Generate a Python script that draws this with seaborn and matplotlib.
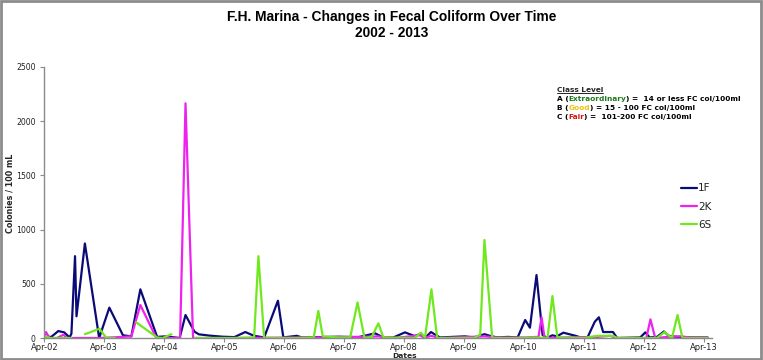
import numpy as np
import pandas as pd
import matplotlib
matplotlib.use("Agg")
import matplotlib.pyplot as plt
import matplotlib.dates as mdates
import matplotlib.patches as patches
import seaborn as sns

# ---------------- data ----------------
stations = ["1F", "2K", "6S"]
colors = ["#0b0b78", "#ee22ee", "#6fe81e"]

dates_1f = ["2002-04-02", "2002-05-13", "2002-06-25", "2002-07-31", "2002-09-02", "2002-09-13",
            "2002-10-05", "2002-10-14", "2002-12-04", "2003-03-01", "2003-05-02", "2003-07-24",
            "2003-09-13", "2003-11-07", "2004-02-17", "2004-04-09", "2004-07-03", "2004-08-08",
            "2004-10-02", "2004-10-28", "2005-01-01", "2005-03-20", "2005-06-01", "2005-08-07",
            "2005-09-30", "2005-11-30", "2006-02-22", "2006-03-27", "2006-06-17", "2006-07-18",
            "2006-10-29", "2007-02-27", "2007-06-28", "2007-10-07", "2007-11-26", "2008-01-26",
            "2008-04-06", "2008-06-02", "2008-07-06", "2008-08-06", "2008-09-11", "2008-11-04",
            "2009-04-05", "2009-05-31", "2009-08-03", "2009-09-17", "2009-10-23", "2009-12-23",
            "2010-02-21", "2010-04-08", "2010-05-07", "2010-06-16", "2010-07-23", "2010-08-18",
            "2010-09-21", "2010-10-17", "2010-11-27", "2011-02-09", "2011-03-22", "2011-04-21",
            "2011-06-06", "2011-07-01", "2011-07-27", "2011-09-25", "2011-10-20", "2012-03-09",
            "2012-04-09", "2012-05-05", "2012-06-19", "2012-07-31", "2012-08-30", "2012-10-18",
            "2013-01-17", "2013-04-23"]
values_1f = [10, 10, 64, 52, 5, 40,
             755, 200, 872, 0, 280, 25,
             15, 449, 10, 15, 0, 212,
             58, 34, 22, 12, 8, 55,
             20, 5, 344, 5, 20, 5,
             8, 12, 8, 43, 5, 5,
             52, 18, 35, 0, 55, 5,
             15, 5, 35, 15, 5, 10,
             5, 166, 95, 581, 28, 0,
             25, 15, 49, 20, 0, 0,
             150, 191, 55, 55, 0, 5,
             52, 5, 10, 60, 20, 10,
             5, 5]

dates_2k = ["2002-04-02", "2002-04-11", "2002-05-03", "2002-06-17", "2002-07-27", "2002-08-16",
            "2002-09-05", "2002-12-04", "2003-03-01", "2003-07-24", "2003-09-13", "2003-11-07",
            "2004-02-12", "2004-07-06", "2004-08-08", "2004-09-23", "2005-06-01", "2006-06-30",
            "2006-10-29", "2007-06-28", "2007-10-27", "2008-01-26", "2008-04-06", "2008-06-02",
            "2008-07-06", "2008-08-06", "2008-09-11", "2008-11-04", "2009-08-03", "2009-10-23",
            "2010-04-08", "2010-06-16", "2010-06-27", "2010-07-17", "2010-08-04", "2010-11-27",
            "2011-06-21", "2011-09-07", "2011-10-20", "2012-03-09", "2012-04-15", "2012-05-10",
            "2012-06-08", "2012-09-30", "2012-11-17", "2012-12-30", "2013-04-23"]
values_2k = [0, 55, 0, 0, 30, 0,
             0, 0, 0, 10, 15, 304,
             0, 0, 2165, 0, 0, 5,
             5, 10, 15, 0, 10, 20,
             25, 0, 20, 0, 15, 5,
             5, 10, 0, 190, 0, 5,
             10, 20, 0, 0, 0, 172,
             0, 15, 15, 5, 5]

# NaN marks a break in the 6S record
dates_6s = ["2002-04-02", "2002-05-07", "2002-06-25", "2002-07-31", "2002-09-13", "2002-10-20",
            "2002-12-04", "2003-03-03", "2003-04-14", "2003-06-05", "2003-07-15",
            "2003-10-12", "2004-02-17", "2004-03-22", "2004-05-14", "2004-06-20",
            "2004-10-02", "2005-01-01", "2005-06-01", "2005-09-30", "2005-10-26", "2005-11-30",
            "2006-06-17", "2006-09-28", "2006-10-26", "2006-11-22", "2007-02-27", "2007-05-08",
            "2007-06-22", "2007-08-03", "2007-09-16", "2007-10-27", "2007-11-26", "2008-06-02",
            "2008-07-12", "2008-08-06", "2008-09-14", "2008-10-19", "2009-05-31", "2009-07-08",
            "2009-08-03", "2009-09-19", "2010-02-21", "2010-06-04", "2010-08-22", "2010-09-21",
            "2010-10-21", "2011-04-03", "2011-06-21", "2011-09-25", "2011-10-20", "2012-06-19",
            "2012-08-04", "2012-09-18", "2012-10-22", "2012-11-21", "2013-04-23"]
values_6s = [15, 0, 0, 0, 0, np.nan,
             35, 85, 0, 0, np.nan,
             145, 5, 0, 35, np.nan,
             0, 0, 0, 5, 755, 0,
             0, 5, 250, 15, 5, 5,
             328, 0, 10, 135, 5, 0,
             49, 5, 449, 0, 0, 30,
             904, 0, 0, 5, 0, 387,
             5, 0, 20, 20, 0, 0,
             55, 0, 212, 0, 0]

y_ticks = [0, 500, 1000, 1500, 2000, 2500]

title_text = "F.H. Marina - Changes in Fecal Coliform Over Time\n2002 - 2013"
xlabel_text = "Dates"
ylabel_text = "Colonies / 100 mL"
class_title = "Class Level"
class_lines = [
    [("A (", "black"), ("Extraordinary", "#1d7a1d"), (") =  14 or less FC col/100ml", "black")],
    [("B (", "black"), ("Good", "#f0c20a"), (") = 15 - 100 FC col/100ml", "black")],
    [("C (", "black"), ("Fair", "#e01010"), (") =  101-200 FC col/100ml", "black")],
]

# ---------------- build table ----------------
frames = []
for st, d, v in [("1F", dates_1f, values_1f), ("2K", dates_2k, values_2k), ("6S", dates_6s, values_6s)]:
    f = pd.DataFrame({"date": pd.to_datetime(d), "value": np.array(v, dtype=float)})
    f["station"] = st
    f["segment"] = st + "_" + f["value"].isna().cumsum().astype(str)
    frames.append(f.dropna())
df = pd.concat(frames, ignore_index=True)

# ---------------- figure ----------------
sns.set_style("white")
plt.rcParams["font.family"] = ["DejaVu Sans"]

fig = plt.figure(figsize=(7.63, 3.60), dpi=100)
ax = fig.add_axes([44 / 763, 22 / 360, (712 - 44) / 763, (338 - 67) / 360])

sns.lineplot(data=df, x="date", y="value", hue="station", units="segment",
             estimator=None, hue_order=stations, palette=colors, linewidth=1.6,
             ax=ax, sort=False)

ax.set_ylim(0, 2500)
ax.set_yticks(y_ticks)
ax.set_xlim(pd.Timestamp("2002-03-30"), pd.Timestamp("2013-05-20"))
ax.xaxis.set_major_locator(mdates.MonthLocator(bymonth=4))
ax.xaxis.set_major_formatter(mdates.DateFormatter("%b-%y"))
ax.set_xlabel("")
ax.set_ylabel("")

for side in ["top", "right"]:
    ax.spines[side].set_visible(False)
for side in ["left", "bottom"]:
    ax.spines[side].set_color("#8a8a8a")
    ax.spines[side].set_linewidth(1.0)
ax.tick_params(axis="x", which="major", length=3, width=0.8, color="#8a8a8a",
               labelsize=6.0, labelcolor="#222222", pad=0.6, direction="out", bottom=True)
ax.tick_params(axis="y", which="major", length=3, width=0.8, color="#8a8a8a",
               labelsize=5.6, labelcolor="#222222", pad=3, direction="out", left=True)
ax.tick_params(axis="x", which="minor", bottom=False)

# legend
handles, labels = ax.get_legend_handles_labels()
leg = ax.legend(handles, labels, loc="upper left", bbox_to_anchor=(672 / 763, 1 - 174 / 360),
                bbox_transform=fig.transFigure, frameon=False, fontsize=7.5,
                handlelength=1.5, handletextpad=0.1, labelspacing=0.8)
for t in leg.get_texts():
    t.set_color("#222222")

fig.canvas.draw()
renderer = fig.canvas.get_renderer()

# title (fit to the reference width)
title = fig.text(392 / 763, 1 - 25 / 360, title_text, ha="center", va="center",
                 fontsize=10.5, fontweight="bold", linespacing=1.15, color="black",
                 family=["Liberation Sans Narrow", "DejaVu Sans Condensed", "Liberation Sans"])
w = title.get_window_extent(renderer).width
title.set_fontsize(10.5 * 330 / w)

# axis labels
fig.text(405 / 763, 1 - 356 / 360, xlabel_text, ha="center", va="center",
         fontsize=5.4, fontweight="bold")
fig.text(10 / 763, 1 - 193 / 360, ylabel_text, ha="center", va="center",
         rotation=90, fontsize=5.8, fontweight="bold")

# class level note
x0 = 557
fs_note = 5.35
t = fig.text(x0 / 763, 1 - 90 / 360, class_title, ha="left", va="center",
             fontsize=fs_note, fontweight="bold")
bb = t.get_window_extent(renderer)
fig.add_artist(plt.Line2D([bb.x0 / 763, bb.x1 / 763],
                          [(bb.y0 + 0.3) / 360, (bb.y0 + 0.3) / 360],
                          transform=fig.transFigure, color="black", lw=0.6))
for i, line in enumerate(class_lines):
    y = 1 - (99 + 8.8 * i) / 360
    xp = x0
    for txt, col in line:
        tt = fig.text(xp / 763, y, txt, ha="left", va="center", fontsize=fs_note,
                      fontweight="bold", color=col)
        b = tt.get_window_extent(renderer)
        xp = b.x1

# figure border
fig.add_artist(patches.Rectangle((0.001, 0.002), 0.997, 0.996, transform=fig.transFigure,
                                 fill=False, edgecolor="#8c8c8c", lw=2.0))

fig.savefig("out.png", dpi=100)
